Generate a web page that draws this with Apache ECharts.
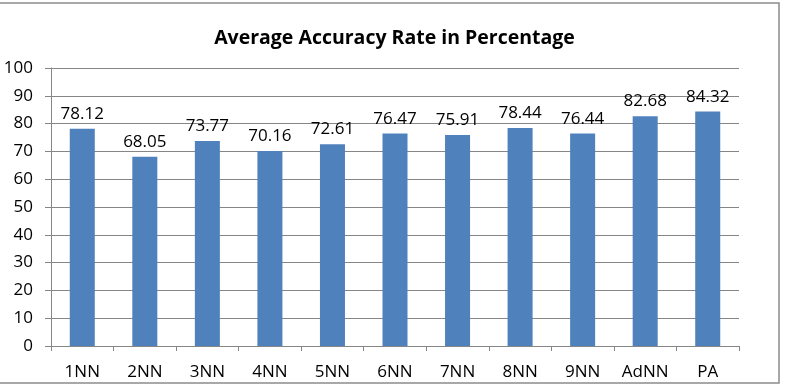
<!DOCTYPE html>
<html>
<head>
<meta charset="utf-8">
<script src="https://cdn.jsdelivr.net/npm/echarts@6/dist/echarts.min.js"></script>
<style>
  html, body { margin: 0; padding: 0; background: #fff; }
  #chart { width: 789px; height: 386px; }
</style>
</head>
<body>
<div id="chart"></div>
<script>
  // 数据
  const categories = ['1NN', '2NN', '3NN', '4NN', '5NN', '6NN', '7NN', '8NN', '9NN', 'AdNN', 'PA'];
  const accuracy = [78.12, 68.05, 73.77, 70.16, 72.61, 76.47, 75.91, 78.44, 76.44, 82.68, 84.32];

  const font = '"Open Sans", "Noto Sans", sans-serif';
  const chart = echarts.init(document.getElementById('chart'), null, { renderer: 'canvas' });

  chart.setOption({
    animation: false,
    backgroundColor: '#fff',
    title: {
      text: 'Average Accuracy Rate in Percentage',
      left: 'center',
      top: 23,
      textStyle: { fontFamily: font, fontWeight: 'bold', fontSize: 19.5, color: '#000' },
    },
    graphic: [{
      type: 'rect',
      shape: { x: -2, y: 3, width: 781, height: 380 },
      style: { fill: 'none', stroke: '#8c8c8c', lineWidth: 1.5 },
      silent: true,
    }],
    grid: { left: 51, right: 50, top: 68, bottom: 40 },
    xAxis: {
      type: 'category',
      data: categories,
      axisLine: { lineStyle: { color: '#868686' } },
      axisTick: { show: true, length: 5, lineStyle: { color: '#868686' } },
      axisLabel: { color: '#000', fontFamily: font, fontSize: 17, margin: 18 },
    },
    yAxis: {
      type: 'value',
      min: 0,
      max: 100,
      interval: 10,
      axisLine: { show: true, lineStyle: { color: '#868686' } },
      axisTick: { show: true, length: 6, lineStyle: { color: '#868686' } },
      axisLabel: { color: '#000', fontFamily: font, fontSize: 17, margin: 18 },
      splitLine: { lineStyle: { color: '#868686' } },
    },
    series: [{
      type: 'bar',
      data: accuracy,
      barWidth: '40%',
      itemStyle: { color: '#4f81bd' },
      label: {
        show: true,
        position: 'top',
        distance: 6,
        color: '#000',
        fontFamily: font,
        fontSize: 17,
        formatter: (p) => p.value.toFixed(2),
      },
    }],
  });
</script>
</body>
</html>
